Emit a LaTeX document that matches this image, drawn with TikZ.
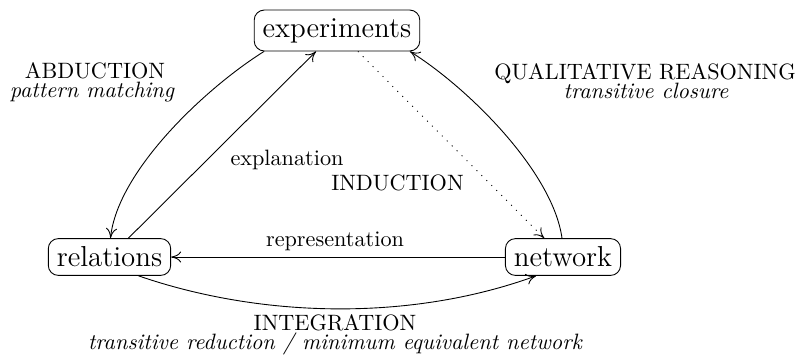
\documentclass[tikz,border=0pt]{standalone}
\usetikzlibrary{arrows.meta}
\begin{document}
\begin{tikzpicture}[x=0.45pt,y=0.45pt,
  stage/.style={draw, rounded corners=4.5pt, inner xsep=3.8pt, inner ysep=3.7pt,
                font=\fontsize{13}{15}\selectfont},
  flow/.style={-{To[length=4.5pt,width=5pt]}},
  hint/.style={flow, dash pattern=on 0.45pt off 2.7pt},
  lbl/.style={anchor=base, inner sep=0pt, font=\fontsize{10}{12}\selectfont},
  sub/.style={lbl, font=\fontsize{10}{12}\selectfont\itshape}]
\useasboundingbox (0,0) rectangle (798,-358);

% the three stages
\node[stage] (exp) at (337,-30.5) {experiments};
\node[stage] (rel) at (109.5,-257) {relations};
\node[stage] (net) at (563,-257) {network};

% transitions between the stages
\draw[flow] (exp.-164) to[out=-148,in=84,looseness=0.72] (rel.87);
\draw[flow] (rel) -- (exp);
\draw[hint] (exp) -- (net);
\draw[flow] (net.93) to[out=98,in=-32,looseness=0.72] (exp.-16);
\draw[flow] (net) -- (rel);
\draw[flow] (rel.-33) to[out=-19,in=-160,looseness=0.85] (net.-145);

% labels
\node[lbl] (abd) at (95,-78) {ABDUCTION};
\node[sub] (abdsub) at (92,-97.5) {pattern matching};
\node[lbl] (qual) at (645,-79) {QUALITATIVE REASONING};
\node[sub] (qualsub) at (646,-98.5) {transitive closure};
\node[lbl] (expl) at (287,-165) {explanation};
\node[lbl] (ind) at (397.5,-190) {INDUCTION};
\node[lbl] (repr) at (335,-246) {representation};
\node[lbl] (integ) at (335,-330) {INTEGRATION};
\node[sub] (integsub) at (335,-349.5) {transitive reduction / minimum equivalent network};
\end{tikzpicture}
\end{document}
